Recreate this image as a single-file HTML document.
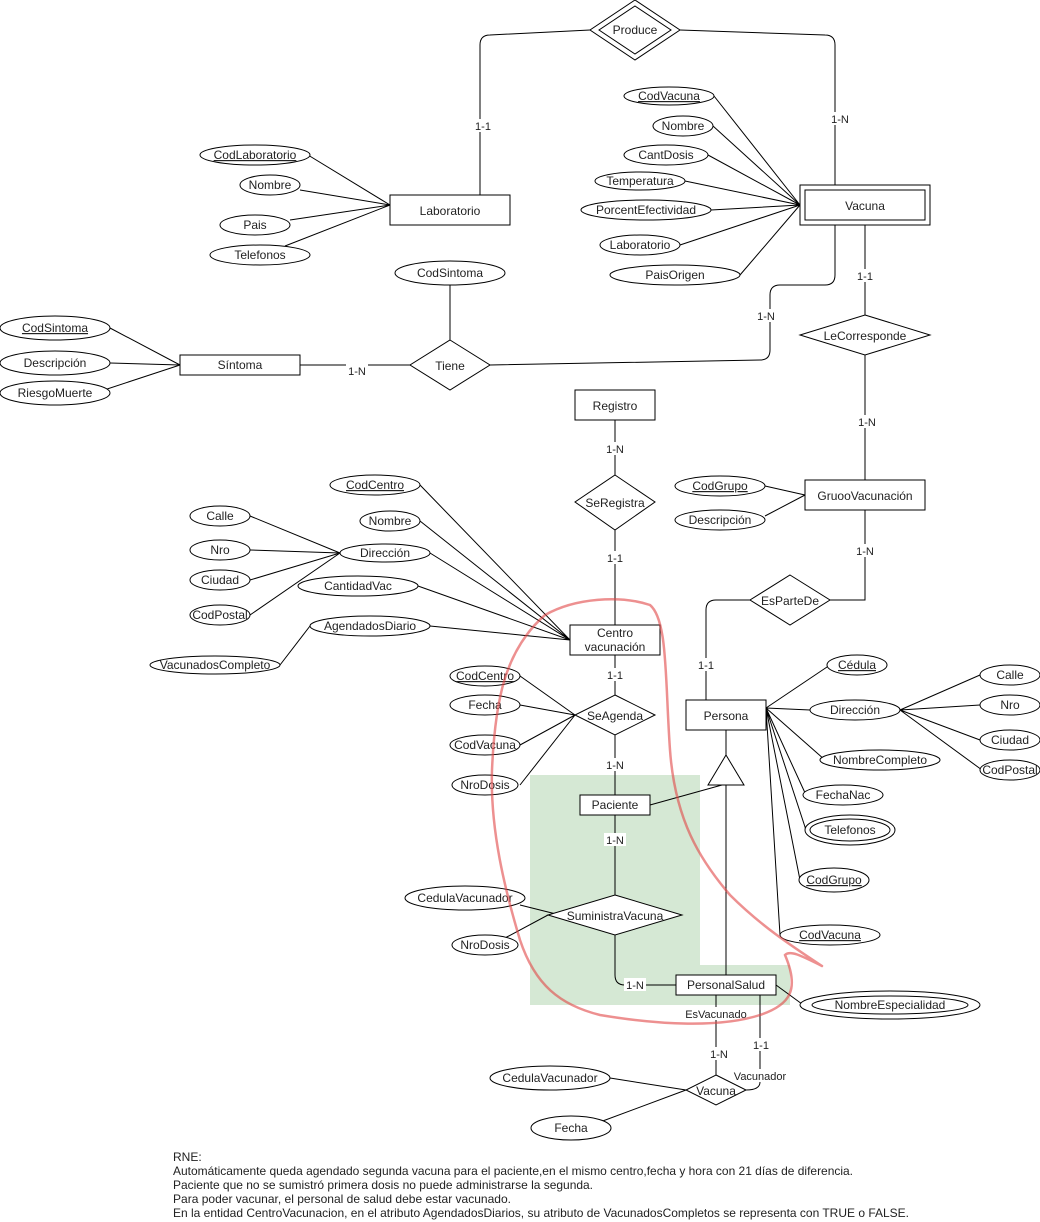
<!DOCTYPE html>
<html><head><meta charset="utf-8"><style>
html,body{margin:0;padding:0;background:#fff;}
svg{display:block;font-family:"Liberation Sans",Arial,sans-serif;}
text{font-size:12px;fill:#222;}
.l{stroke:#000;stroke-width:1;fill:none;}
.s{fill:#fff;stroke:#000;stroke-width:1;}
.lb{font-size:11px;}
</style></head><body>
<svg width="1040" height="1222" viewBox="0 0 1040 1222" xmlns="http://www.w3.org/2000/svg">
<!-- green background -->
<path d="M530 775 H700 V965 H790 V1005 H530 Z" fill="#d5e8d4"/>

<!-- connectors -->
<g class="l">
<path d="M590 30 L490 35 Q480 35 480 45 V195"/>
<path d="M680 30 L825 35 Q835 35 835 45 V185"/>
<path d="M835 225 V275 Q835 285 825 285 H780 Q770 285 770 295 V350 Q770 360 760 360 L490 365"/>
<path d="M865 225 V315 M865 355 V480"/>
<path d="M300 365 H410 M450 285 V340"/>
<path d="M615 420 V475 M615 530 V625"/>
<path d="M615 655 V695 M615 735 V795 M615 815 V895"/>
<path d="M615 935 V975 Q615 985 625 985 H676"/>
<path d="M706 700 V610 Q706 600 716 600 H750 M830 600 H865 V510"/>
<path d="M650 805 L722 785 M726 730 V755 M726 785 V975"/>
<path d="M716 995 V1075 M760 995 V1082 Q760 1090 746 1090"/>
<path d="M776 985 L802 1004"/>
<!-- Laboratorio attrs -->
<path d="M308 155 L390 205 M300 190 L390 205 M290 220 L390 205 M285 246 L390 205"/>
<!-- Vacuna attrs -->
<path d="M714 96 L800 205 M713 126 L800 205 M708 155 L800 205 M685 181 L800 205 M711 210 L800 205 M680 245 L800 205 M740 275 L800 205"/>
<!-- Sintoma attrs -->
<path d="M110 328 L180 365 M110 363 L180 365 M95 393 L180 365"/>
<!-- Centro attrs -->
<path d="M420 485 L570 640 M420 521 L570 640 M430 553 L570 640 M418 586 L570 640 M430 626 L570 640"/>
<path d="M250 516 L340 553 M250 550 L340 553 M250 580 L340 553 M250 615 L340 553 M280 665 L310 626"/>
<!-- SeAgenda attrs -->
<path d="M520 676 L575 715 M520 705 L575 715 M520 745 L575 715 M520 785 L575 715"/>
<!-- Suministra attrs -->
<path d="M520 905 L560 915 L548 915 M505 938 L548 915"/>
<!-- GrupoVac attrs -->
<path d="M765 486 L805 495 M765 516 L805 495"/>
<!-- Persona attrs -->
<path d="M766 708 L830 665 M766 708 L810 710 M766 708 L825 760 M766 708 L806 795 M766 708 L806 830 M766 708 L800 880 M766 708 L780 935"/>
<path d="M900 710 L980 675 M900 710 L980 705 M900 710 L980 740 M900 710 L982 770"/>
<!-- Vacuna rel attrs -->
<path d="M610 1078 L686 1090 M600 1122 L686 1090"/>
</g>

<!-- Produce double diamond -->
<polygon class="s" points="635,0 680,30 635,60 590,30"/>
<polygon class="s" points="635,6 671,30 635,54 599,30"/>
<text x="635" y="34" text-anchor="middle">Produce</text>

<!-- entities -->
<rect class="s" x="390" y="195" width="120" height="30"/><text x="450" y="215" text-anchor="middle">Laboratorio</text>
<rect class="s" x="800" y="185" width="130" height="40"/><rect class="s" x="805" y="190" width="120" height="30"/><text x="865" y="210" text-anchor="middle">Vacuna</text>
<rect class="s" x="180" y="355" width="120" height="20"/><text x="240" y="369" text-anchor="middle">Síntoma</text>
<rect class="s" x="575" y="390" width="80" height="30"/><text x="615" y="410" text-anchor="middle">Registro</text>
<rect class="s" x="805" y="480" width="120" height="30"/><text x="865" y="500" text-anchor="middle">GruooVacunación</text>
<rect class="s" x="570" y="625" width="90" height="30"/><text x="615" y="637" text-anchor="middle">Centro</text><text x="615" y="651" text-anchor="middle">vacunación</text>
<rect class="s" x="686" y="700" width="80" height="30"/><text x="726" y="720" text-anchor="middle">Persona</text>
<rect class="s" x="580" y="795" width="70" height="20"/><text x="615" y="809" text-anchor="middle">Paciente</text>
<rect class="s" x="676" y="975" width="100" height="20"/><text x="726" y="989" text-anchor="middle">PersonalSalud</text>
<polygon class="s" points="726,755 744,785 708,785"/>

<!-- relationships -->
<polygon class="s" points="865,315 930,335 865,355 800,335"/><text x="865" y="340" text-anchor="middle">LeCorresponde</text>
<polygon class="s" points="450,340 490,365 450,390 410,365"/><text x="450" y="370" text-anchor="middle">Tiene</text>
<polygon class="s" points="615,475 655,502 615,530 575,502"/><text x="615" y="507" text-anchor="middle">SeRegistra</text>
<polygon class="s" points="790,575 830,600 790,625 750,600"/><text x="790" y="605" text-anchor="middle">EsParteDe</text>
<polygon class="s" points="615,695 655,715 615,735 575,715"/><text x="615" y="720" text-anchor="middle">SeAgenda</text>
<polygon class="s" points="615,895 682,915 615,935 548,915"/><text x="615" y="920" text-anchor="middle">SuministraVacuna</text>
<polygon class="s" points="716,1075 746,1090 716,1105 686,1090"/><text x="716" y="1095" text-anchor="middle">Vacuna</text>

<!-- attributes -->
<g>
<ellipse class="s" cx="255" cy="155" rx="55" ry="10"/><text x="255" y="159" text-anchor="middle" text-decoration="underline">CodLaboratorio</text>
<ellipse class="s" cx="270" cy="185" rx="30" ry="10"/><text x="270" y="189" text-anchor="middle">Nombre</text>
<ellipse class="s" cx="255" cy="225" rx="35" ry="10"/><text x="255" y="229" text-anchor="middle">Pais</text>
<ellipse class="s" cx="260" cy="255" rx="50" ry="10"/><text x="260" y="259" text-anchor="middle">Telefonos</text>

<ellipse class="s" cx="669" cy="96" rx="45" ry="9"/><text x="669" y="100" text-anchor="middle" text-decoration="underline">CodVacuna</text>
<ellipse class="s" cx="683" cy="126" rx="30" ry="10"/><text x="683" y="130" text-anchor="middle">Nombre</text>
<ellipse class="s" cx="666" cy="155" rx="42" ry="10"/><text x="666" y="159" text-anchor="middle">CantDosis</text>
<ellipse class="s" cx="640" cy="181" rx="45" ry="9"/><text x="640" y="185" text-anchor="middle">Temperatura</text>
<ellipse class="s" cx="646" cy="210" rx="65" ry="10"/><text x="646" y="214" text-anchor="middle">PorcentEfectividad</text>
<ellipse class="s" cx="640" cy="245" rx="40" ry="10"/><text x="640" y="249" text-anchor="middle">Laboratorio</text>
<ellipse class="s" cx="675" cy="275" rx="65" ry="10"/><text x="675" y="279" text-anchor="middle">PaisOrigen</text>

<ellipse class="s" cx="450" cy="273" rx="55" ry="12"/><text x="450" y="277" text-anchor="middle">CodSintoma</text>
<ellipse class="s" cx="55" cy="328" rx="55" ry="12"/><text x="55" y="332" text-anchor="middle" text-decoration="underline">CodSintoma</text>
<ellipse class="s" cx="55" cy="363" rx="55" ry="12"/><text x="55" y="367" text-anchor="middle">Descripción</text>
<ellipse class="s" cx="55" cy="393" rx="55" ry="12"/><text x="55" y="397" text-anchor="middle">RiesgoMuerte</text>

<ellipse class="s" cx="375" cy="485" rx="45" ry="10"/><text x="375" y="489" text-anchor="middle" text-decoration="underline">CodCentro</text>
<ellipse class="s" cx="390" cy="521" rx="30" ry="10"/><text x="390" y="525" text-anchor="middle">Nombre</text>
<ellipse class="s" cx="385" cy="553" rx="45" ry="9"/><text x="385" y="557" text-anchor="middle">Dirección</text>
<ellipse class="s" cx="358" cy="586" rx="60" ry="10"/><text x="358" y="590" text-anchor="middle">CantidadVac</text>
<ellipse class="s" cx="370" cy="626" rx="60" ry="10"/><text x="370" y="630" text-anchor="middle">AgendadosDiario</text>
<ellipse class="s" cx="220" cy="516" rx="30" ry="10"/><text x="220" y="520" text-anchor="middle">Calle</text>
<ellipse class="s" cx="220" cy="550" rx="30" ry="10"/><text x="220" y="554" text-anchor="middle">Nro</text>
<ellipse class="s" cx="220" cy="580" rx="30" ry="10"/><text x="220" y="584" text-anchor="middle">Ciudad</text>
<ellipse class="s" cx="220" cy="615" rx="30" ry="10"/><text x="220" y="619" text-anchor="middle">CodPostal</text>
<ellipse class="s" cx="215" cy="665" rx="65" ry="9"/><text x="215" y="669" text-anchor="middle">VacunadosCompleto</text>

<ellipse class="s" cx="720" cy="486" rx="45" ry="10"/><text x="720" y="490" text-anchor="middle" text-decoration="underline">CodGrupo</text>
<ellipse class="s" cx="720" cy="520" rx="45" ry="10"/><text x="720" y="524" text-anchor="middle">Descripción</text>

<ellipse class="s" cx="485" cy="676" rx="35" ry="10"/><text x="485" y="680" text-anchor="middle" text-decoration="underline">CodCentro</text>
<ellipse class="s" cx="485" cy="705" rx="35" ry="10"/><text x="485" y="709" text-anchor="middle">Fecha</text>
<ellipse class="s" cx="485" cy="745" rx="35" ry="10"/><text x="485" y="749" text-anchor="middle">CodVacuna</text>
<ellipse class="s" cx="485" cy="785" rx="33" ry="10"/><text x="485" y="789" text-anchor="middle">NroDosis</text>

<ellipse class="s" cx="465" cy="898" rx="60" ry="12"/><text x="465" y="902" text-anchor="middle">CedulaVacunador</text>
<ellipse class="s" cx="485" cy="945" rx="33" ry="10"/><text x="485" y="949" text-anchor="middle">NroDosis</text>

<ellipse class="s" cx="857" cy="665" rx="30" ry="10"/><text x="857" y="669" text-anchor="middle" text-decoration="underline">Cédula</text>
<ellipse class="s" cx="855" cy="710" rx="45" ry="10"/><text x="855" y="714" text-anchor="middle">Dirección</text>
<ellipse class="s" cx="880" cy="760" rx="60" ry="10"/><text x="880" y="764" text-anchor="middle">NombreCompleto</text>
<ellipse class="s" cx="843" cy="795" rx="40" ry="10"/><text x="843" y="799" text-anchor="middle">FechaNac</text>
<ellipse class="s" cx="850" cy="830" rx="45" ry="15"/><ellipse class="s" cx="850" cy="830" rx="40" ry="11"/><text x="850" y="834" text-anchor="middle">Telefonos</text>
<ellipse class="s" cx="834" cy="880" rx="35" ry="12"/><text x="834" y="884" text-anchor="middle" text-decoration="underline">CodGrupo</text>
<ellipse class="s" cx="830" cy="935" rx="50" ry="10"/><text x="830" y="939" text-anchor="middle" text-decoration="underline">CodVacuna</text>
<ellipse class="s" cx="1010" cy="675" rx="30" ry="10"/><text x="1010" y="679" text-anchor="middle">Calle</text>
<ellipse class="s" cx="1010" cy="705" rx="30" ry="10"/><text x="1010" y="709" text-anchor="middle">Nro</text>
<ellipse class="s" cx="1010" cy="740" rx="30" ry="10"/><text x="1010" y="744" text-anchor="middle">Ciudad</text>
<ellipse class="s" cx="1010" cy="770" rx="30" ry="10"/><text x="1010" y="774" text-anchor="middle">CodPostal</text>

<ellipse class="s" cx="890" cy="1005" rx="90" ry="14"/><ellipse class="s" cx="890" cy="1005" rx="78" ry="9"/><text x="890" y="1009" text-anchor="middle">NombreEspecialidad</text>

<ellipse class="s" cx="550" cy="1078" rx="60" ry="12"/><text x="550" y="1082" text-anchor="middle">CedulaVacunador</text>
<ellipse class="s" cx="571" cy="1128" rx="40" ry="12"/><text x="571" y="1132" text-anchor="middle">Fecha</text>
</g>

<!-- cardinality labels -->
<g class="lb">
<rect x="472" y="119" width="22" height="13" fill="#fff"/><text x="483" y="130" text-anchor="middle" class="lb">1-1</text>
<rect x="829" y="112" width="22" height="13" fill="#fff"/><text x="840" y="123" text-anchor="middle" class="lb">1-N</text>
<rect x="755" y="309" width="22" height="13" fill="#fff"/><text x="766" y="320" text-anchor="middle" class="lb">1-N</text>
<rect x="854" y="269" width="22" height="13" fill="#fff"/><text x="865" y="280" text-anchor="middle" class="lb">1-1</text>
<rect x="856" y="415" width="22" height="13" fill="#fff"/><text x="867" y="426" text-anchor="middle" class="lb">1-N</text>
<rect x="346" y="364" width="22" height="13" fill="#fff"/><text x="357" y="375" text-anchor="middle" class="lb">1-N</text>
<rect x="604" y="442" width="22" height="13" fill="#fff"/><text x="615" y="453" text-anchor="middle" class="lb">1-N</text>
<rect x="604" y="551" width="22" height="13" fill="#fff"/><text x="615" y="562" text-anchor="middle" class="lb">1-1</text>
<rect x="854" y="544" width="22" height="13" fill="#fff"/><text x="865" y="555" text-anchor="middle" class="lb">1-N</text>
<rect x="695" y="658" width="22" height="13" fill="#fff"/><text x="706" y="669" text-anchor="middle" class="lb">1-1</text>
<rect x="604" y="668" width="22" height="13" fill="#fff"/><text x="615" y="679" text-anchor="middle" class="lb">1-1</text>
<rect x="604" y="758" width="22" height="13" fill="#fff"/><text x="615" y="769" text-anchor="middle" class="lb">1-N</text>
<rect x="604" y="833" width="22" height="13" fill="#fff"/><text x="615" y="844" text-anchor="middle" class="lb">1-N</text>
<rect x="624" y="978" width="22" height="13" fill="#fff"/><text x="635" y="989" text-anchor="middle" class="lb">1-N</text>
<rect x="683" y="1007" width="66" height="13" fill="#fff"/><text x="716" y="1018" text-anchor="middle" class="lb">EsVacunado</text>
<rect x="708" y="1047" width="22" height="13" fill="#fff"/><text x="719" y="1058" text-anchor="middle" class="lb">1-N</text>
<rect x="750" y="1038" width="22" height="13" fill="#fff"/><text x="761" y="1049" text-anchor="middle" class="lb">1-1</text>
<rect x="733" y="1069" width="54" height="13" fill="#fff"/><text x="760" y="1080" text-anchor="middle" class="lb">Vacunador</text>
</g>

<!-- red hand-drawn loop -->
<path d="M822 966 C800 955 790 950 785 955 C800 990 790 1005 760 1015 C720 1028 660 1025 600 1015 C560 1005 535 985 520 940 C505 890 490 830 492 770 C495 700 505 650 545 615 C575 598 620 595 650 605 C668 620 665 680 670 750 C675 820 700 860 730 895 C760 925 790 945 822 966"
 fill="none" stroke="rgba(225,70,70,0.6)" stroke-width="2.5" stroke-linecap="round"/>

<!-- notes -->
<g font-size="12">
<text x="173" y="1161">RNE:</text>
<text x="173" y="1175" textLength="680" lengthAdjust="spacingAndGlyphs">Automáticamente queda agendado segunda vacuna para el paciente,en el mismo centro,fecha y hora con 21 días de diferencia.</text>
<text x="173" y="1189" textLength="420" lengthAdjust="spacingAndGlyphs">Paciente que no se sumistró primera dosis no puede administrarse la segunda.</text>
<text x="173" y="1203" textLength="338" lengthAdjust="spacingAndGlyphs">Para poder vacunar, el personal de salud debe estar vacunado.</text>
<text x="173" y="1217" textLength="736" lengthAdjust="spacingAndGlyphs">En la entidad CentroVacunacion, en el atributo AgendadosDiarios, su atributo de VacunadosCompletos se representa con TRUE o FALSE.</text>
</g>
</svg>
</body></html>
